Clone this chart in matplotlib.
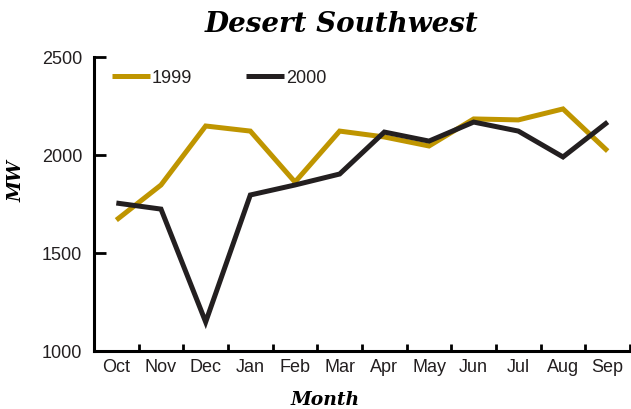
import matplotlib
matplotlib.use("Agg")
import matplotlib.pyplot as plt

months = ["Oct", "Nov", "Dec", "Jan", "Feb", "Mar", "Apr", "May", "Jun", "Jul", "Aug", "Sep"]
mw_1999 = [1668, 1847, 2148, 2122, 1862, 2122, 2092, 2046, 2184, 2179, 2235, 2020]
mw_2000 = [1755, 1724, 1148, 1796, 1847, 1903, 2117, 2071, 2168, 2122, 1990, 2168]
series_labels = ["1999", "2000"]
yticks = [1000, 1500, 2000, 2500]

gold = "#BF9500"
dark = "#231F20"

plt.rcParams['font.family'] = ['Liberation Sans', 'DejaVu Sans']

fig = plt.figure(figsize=(6.31, 4.09), dpi=100)
ax = fig.add_axes([94/631, 1 - 351/409, (630-94)/631, (351-57)/409])

x = list(range(len(months)))
ax.plot(x, mw_1999, color=gold, lw=3.6, label=series_labels[0], solid_joinstyle='miter', solid_capstyle='butt')
ax.plot(x, mw_2000, color=dark, lw=3.6, label=series_labels[1], solid_joinstyle='miter', solid_capstyle='butt')

ax.set_xlim(-0.5, len(months) - 0.5)
ax.set_ylim(1000, 2500)
ax.set_yticks(yticks)
ax.set_yticklabels([str(v) for v in yticks])
ax.set_xticks(x)
ax.set_xticklabels(months)
ax.tick_params(axis='x', which='major', length=0, labelsize=13, pad=6, colors=dark)
ax.set_xticks([i + 0.5 for i in x], minor=True)
ax.tick_params(axis='x', which='minor', direction='in', length=5, width=2, color='black')
ax.tick_params(axis='y', direction='in', length=8.5, width=2, labelsize=13, pad=8.5, colors='black', labelcolor=dark)

for s in ['top', 'right']:
    ax.spines[s].set_visible(False)
for s in ['left', 'bottom']:
    ax.spines[s].set_linewidth(2.2)

serif = ['DejaVu Serif']
fig.text(342/631, 1 - 32/409, "Desert Southwest", ha='center', va='baseline', family=serif,
         style='italic', weight='bold', fontsize=20, color='black')
fig.text(325/631, 1 - 405/409, "Month", ha='center', va='baseline', family=serif,
         style='italic', weight='bold', fontsize=13.5, color='black')
fig.text(17/631, 1 - 181/409, "MW", ha='center', va='center', family=serif,
         style='italic', weight='bold', fontsize=13.5, rotation=90, color='black')

leg = ax.legend(loc='upper left', ncol=2, frameon=False, fontsize=13,
                bbox_to_anchor=(0.01, 1.0), handlelength=2.1, handletextpad=0.1,
                columnspacing=3.0, borderaxespad=0.3)
for t in leg.get_texts():
    t.set_color(dark)

fig.savefig("out.png", dpi=100)
